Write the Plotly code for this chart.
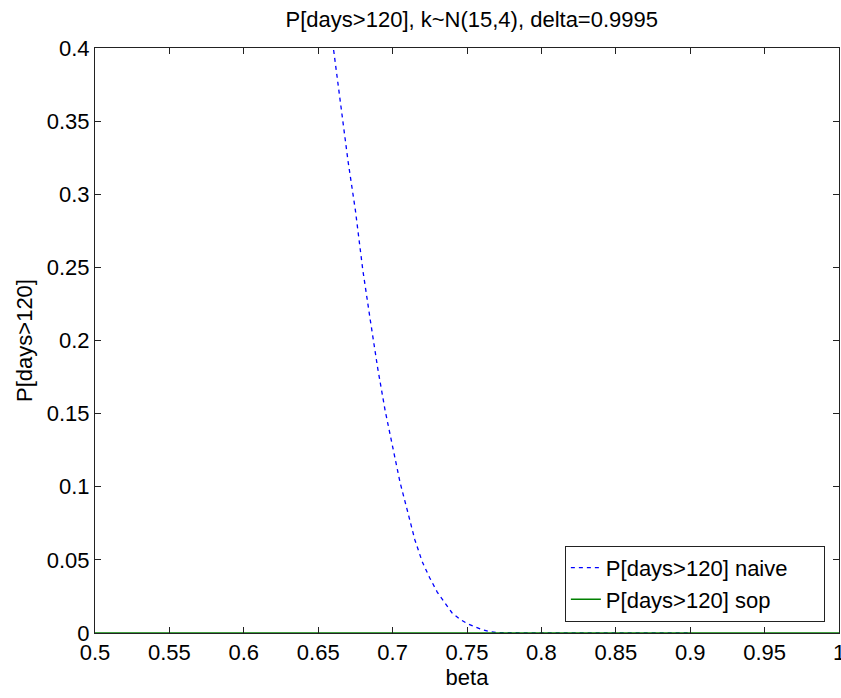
import plotly.graph_objects as go

# Data
beta_naive = [0.65, 0.655, 0.66, 0.665, 0.67, 0.675, 0.68, 0.685, 0.69, 0.695, 0.70,
              0.705, 0.71, 0.715, 0.72, 0.725, 0.73, 0.735, 0.74, 0.745, 0.75,
              0.755, 0.76, 0.765, 0.77, 0.80, 0.85, 0.90]
p_naive = [0.48, 0.44, 0.400, 0.363, 0.323, 0.289, 0.248, 0.214, 0.181, 0.152, 0.128,
           0.103, 0.0834, 0.0636, 0.0485, 0.0376, 0.028, 0.0205, 0.0137, 0.0096, 0.0065,
           0.0044, 0.0024, 0.001, 0.0003, 0.0, 0.0, 0.0]

beta_sop = [0.5, 0.55, 0.6, 0.65, 0.7, 0.75, 0.8, 0.85, 0.9, 0.95, 1.0]
p_sop = [0.0, 0.0, 0.0, 0.0, 0.0, 0.0, 0.0, 0.0, 0.0, 0.0, 0.0]

x_ticks = [0.5, 0.55, 0.6, 0.65, 0.7, 0.75, 0.8, 0.85, 0.9, 0.95, 1.0]
x_tick_labels = ["0.5", "0.55", "0.6", "0.65", "0.7", "0.75", "0.8", "0.85", "0.9", "0.95", "1"]
y_ticks = [0, 0.05, 0.1, 0.15, 0.2, 0.25, 0.3, 0.35, 0.4]
y_tick_labels = ["0", "0.05", "0.1", "0.15", "0.2", "0.25", "0.3", "0.35", "0.4"]

FONT = "Liberation Sans, Arial, sans-serif"
FS = 22
PAD = "\u00a0\u00a0\u00a0\u00a0\u00a0"

fig = go.Figure()
fig.add_trace(go.Scatter(
    x=beta_naive, y=p_naive, mode="lines", name="P[days>120] naive" + PAD,
    line=dict(color="#0000FF", width=1.3, dash="4px,4px"),
))
fig.add_trace(go.Scatter(
    x=beta_sop, y=p_sop, mode="lines", name="P[days>120] sop",
    line=dict(color="#008000", width=1.5),
))

axis_common = dict(
    showgrid=False, zeroline=False, showline=True, linecolor="#222222", linewidth=1,
    mirror="allticks", ticks="inside", ticklen=6, tickcolor="#222222",
    tickfont=dict(family=FONT, size=FS, color="#000000"),
    automargin=False,
)

fig.update_layout(
    width=841, height=698,
    paper_bgcolor="white", plot_bgcolor="white",
    margin=dict(l=95, r=2, t=48, b=65, autoexpand=False),
    title=dict(text="P[days>120], k~N(15,4), delta=0.9995", x=0.561, xanchor="center",
               y=0.973, yanchor="middle",
               font=dict(family=FONT, size=FS, color="#000000")),
    xaxis=dict(range=[0.5, 1.0], tickvals=x_ticks, ticktext=x_tick_labels,
               title=dict(text="beta", font=dict(family=FONT, size=FS, color="#000000"), standoff=2),
               ticklabeloverflow="allow",
               **axis_common),
    yaxis=dict(range=[0, 0.4], tickvals=y_ticks, ticktext=y_tick_labels,
               title=dict(text="P[days>120]", font=dict(family=FONT, size=FS, color="#000000"), standoff=8),
               **axis_common),
    legend=dict(x=0.981, xanchor="right", y=0.019, yanchor="bottom",
                bgcolor="white", bordercolor="#222222", borderwidth=1,
                font=dict(family=FONT, size=FS, color="#000000"),
                tracegroupgap=0, itemwidth=30),
    showlegend=True,
)

fig.write_html("out.html", config={"displayModeBar": False},
               post_script="document.body.style.margin='0px';document.body.style.overflow='hidden';")
